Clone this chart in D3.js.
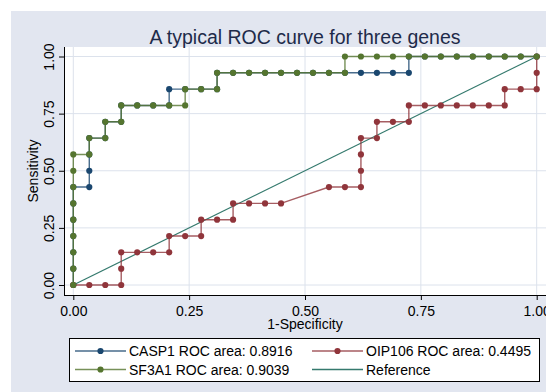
<!DOCTYPE html>
<html>
<head>
<meta charset="utf-8">
<script src="https://cdn.jsdelivr.net/npm/d3@7"></script>
<style>
  html, body { margin: 0; padding: 0; background: #ffffff; }
  svg { display: block; font-family: "Liberation Sans", Arial, Helvetica, sans-serif; }
</style>
</head>
<body>
<svg id="chart" width="546" height="392"></svg>
<script>
// ---- chart text ----
const chartTitle = "A typical ROC curve for three genes";
const xTitle = "1-Specificity";
const yTitle = "Sensitivity";
const tickValues = [0, 0.25, 0.5, 0.75, 1];

// ---- series: names, ROC areas, colours ----
const seriesNames = ["CASP1", "OIP106", "SF3A1"];
const rocAreas = [0.8916, 0.4495, 0.9039];
const seriesColors = ["#1a476f", "#90353b", "#55752f"];
const referenceName = "Reference";
const referenceColor = "#357a6e";

// ---- ROC points (1-specificity, sensitivity) ----
const casp1Fpr = [0, 0, 0, 0, 0, 0, 0, 0.0345, 0.0345, 0.0345, 0.0345, 0.0690, 0.0690, 0.1034, 0.1034,
  0.1379, 0.1724, 0.2069, 0.2069, 0.2414, 0.2759, 0.3103, 0.3103, 0.3448, 0.3793, 0.4138, 0.4483, 0.4828,
  0.5172, 0.5517, 0.5862, 0.6207, 0.6552, 0.6897, 0.7241, 0.7241, 0.7586, 0.7931, 0.8276, 0.8621, 0.8966,
  0.9310, 0.9655, 1];
const casp1Tpr = [0, 0.0714, 0.1429, 0.2143, 0.2857, 0.3571, 0.4286, 0.4286, 0.5000, 0.5714, 0.6429, 0.6429,
  0.7143, 0.7143, 0.7857, 0.7857, 0.7857, 0.7857, 0.8571, 0.8571, 0.8571, 0.8571, 0.9286, 0.9286, 0.9286,
  0.9286, 0.9286, 0.9286, 0.9286, 0.9286, 0.9286, 0.9286, 0.9286, 0.9286, 0.9286, 1, 1, 1, 1, 1, 1, 1, 1, 1];

const oip106Fpr = [0, 0.0345, 0.0690, 0.1034, 0.1034, 0.1034, 0.1379, 0.1724, 0.2069, 0.2069, 0.2414, 0.2759,
  0.2759, 0.3103, 0.3448, 0.3448, 0.3793, 0.4138, 0.4483, 0.5517, 0.5862, 0.6207, 0.6207, 0.6207, 0.6207,
  0.6552, 0.6552, 0.6897, 0.7241, 0.7241, 0.7586, 0.7931, 0.8276, 0.8621, 0.8966, 0.9310, 0.9310, 0.9655,
  1, 1, 1];
const oip106Tpr = [0, 0, 0, 0, 0.0714, 0.1429, 0.1429, 0.1429, 0.1429, 0.2143, 0.2143, 0.2143, 0.2857, 0.2857,
  0.2857, 0.3571, 0.3571, 0.3571, 0.3571, 0.4286, 0.4286, 0.4286, 0.5000, 0.5714, 0.6429, 0.6429, 0.7143,
  0.7143, 0.7143, 0.7857, 0.7857, 0.7857, 0.7857, 0.7857, 0.7857, 0.7857, 0.8571, 0.8571, 0.8571, 0.9286, 1];

const sf3a1Fpr = [0, 0, 0, 0, 0, 0, 0, 0, 0, 0.0345, 0.0345, 0.0690, 0.0690, 0.1034, 0.1034, 0.1379, 0.1724,
  0.2069, 0.2414, 0.2414, 0.2759, 0.3103, 0.3103, 0.3448, 0.3793, 0.4138, 0.4483, 0.4828, 0.5172, 0.5517,
  0.5862, 0.5862, 0.6207, 0.6552, 0.6897, 0.7241, 0.7586, 0.7931, 0.8276, 0.8621, 0.8966, 0.9310, 0.9655, 1];
const sf3a1Tpr = [0, 0.0714, 0.1429, 0.2143, 0.2857, 0.3571, 0.4286, 0.5000, 0.5714, 0.5714, 0.6429, 0.6429,
  0.7143, 0.7143, 0.7857, 0.7857, 0.7857, 0.7857, 0.7857, 0.8571, 0.8571, 0.8571, 0.9286, 0.9286, 0.9286,
  0.9286, 0.9286, 0.9286, 0.9286, 0.9286, 0.9286, 1, 1, 1, 1, 1, 1, 1, 1, 1, 1, 1, 1, 1];

// diagonal reference line
const referenceX = [0, 1];
const referenceY = [0, 1];

const seriesFpr = [casp1Fpr, oip106Fpr, sf3a1Fpr];
const seriesTpr = [casp1Tpr, oip106Tpr, sf3a1Tpr];

// ---- layout ----
const W = 546, H = 392;
const bgColor = "#e2e6f0";
const gridColor = "#dce2ec";
const plotLeft = 64, plotTop = 47, plotBottom = 295, plotRight = 546;

const svg = d3.select("#chart");

// outer graph region
svg.append("rect").attr("x", 11).attr("y", 11).attr("width", W - 11).attr("height", H - 11)
  .attr("fill", bgColor);

// plot region
svg.append("rect").attr("x", plotLeft).attr("y", plotTop)
  .attr("width", plotRight - plotLeft).attr("height", plotBottom - plotTop)
  .attr("fill", "#ffffff");

const x = d3.scaleLinear().domain([0, 1]).range([73.3, 536.7]);
const y = d3.scaleLinear().domain([0, 1]).range([285, 56.5]);

// grid lines
const grid = svg.append("g").attr("stroke", gridColor).attr("stroke-width", 1);
grid.selectAll("line.gx").data(tickValues).join("line").attr("class", "gx")
  .attr("x1", d => x(d)).attr("x2", d => x(d))
  .attr("y1", plotTop).attr("y2", plotBottom);
grid.selectAll("line.gy").data(tickValues).join("line").attr("class", "gy")
  .attr("x1", plotLeft).attr("x2", plotRight)
  .attr("y1", d => y(d)).attr("y2", d => y(d));

// axes
const fmt = d3.format(".2f");
const yAxis = svg.append("g").attr("transform", `translate(${plotLeft},0)`)
  .call(d3.axisLeft(y).tickValues(tickValues).tickSize(5).tickSizeOuter(0).tickFormat(fmt));
yAxis.select(".domain").remove();
yAxis.selectAll(".tick line").attr("stroke", "#000");
yAxis.selectAll(".tick text")
  .attr("transform", "rotate(-90)")
  .attr("x", 0).attr("y", -10).attr("dy", 0)
  .attr("text-anchor", "middle")
  .attr("font-size", 14).attr("fill", "#000");

const xAxis = svg.append("g").attr("transform", `translate(0,${plotBottom})`)
  .call(d3.axisBottom(x).tickValues(tickValues).tickSize(5).tickSizeOuter(0).tickFormat(fmt));
xAxis.select(".domain").remove();
xAxis.selectAll(".tick line").attr("stroke", "#000");
xAxis.selectAll(".tick text").attr("y", 11).attr("dy", "0.71em")
  .attr("font-size", 14).attr("fill", "#000");

svg.append("line").attr("x1", plotLeft + 0.5).attr("x2", plotLeft + 0.5)
  .attr("y1", plotTop).attr("y2", plotBottom + 0.5).attr("stroke", "#000");
svg.append("line").attr("x1", plotLeft).attr("x2", plotRight)
  .attr("y1", plotBottom + 0.5).attr("y2", plotBottom + 0.5).attr("stroke", "#000");

// axis titles
svg.append("text").attr("x", 305).attr("y", 329).attr("text-anchor", "middle")
  .attr("font-size", 14).attr("fill", "#000").text(xTitle);
svg.append("text").attr("transform", "translate(38,171) rotate(-90)").attr("text-anchor", "middle")
  .attr("font-size", 14).attr("fill", "#000").text(yTitle);

// chart title
svg.append("text").attr("x", 305).attr("y", 44).attr("text-anchor", "middle")
  .attr("font-size", 19.5).attr("fill", "#1e2b4a").text(chartTitle);

// reference diagonal
const lineGen = d3.line().x(d => x(d[0])).y(d => y(d[1]));
svg.append("path").datum(d3.zip(referenceX, referenceY))
  .attr("d", lineGen).attr("fill", "none")
  .attr("stroke", referenceColor).attr("stroke-width", 1.2);

// ROC curves, drawn in series order
seriesNames.forEach((name, i) => {
  const pts = d3.zip(seriesFpr[i], seriesTpr[i]);
  const g = svg.append("g");
  g.append("path").datum(pts).attr("d", lineGen).attr("fill", "none")
    .attr("stroke", seriesColors[i]).attr("stroke-width", 1.4).attr("stroke-opacity", 0.8);
  g.selectAll("circle").data(pts).join("circle")
    .attr("cx", d => x(d[0])).attr("cy", d => y(d[1])).attr("r", 3.1)
    .attr("fill", seriesColors[i]);
});

// legend
const legendItems = [
  { label: `${seriesNames[0]} ROC area: ${d3.format(".4f")(rocAreas[0])}`, color: seriesColors[0], marker: true },
  { label: `${seriesNames[1]} ROC area: ${d3.format(".4f")(rocAreas[1])}`, color: seriesColors[1], marker: true },
  { label: `${seriesNames[2]} ROC area: ${d3.format(".4f")(rocAreas[2])}`, color: seriesColors[2], marker: true },
  { label: referenceName, color: referenceColor, marker: false }
];
const legend = svg.append("g");
legend.append("rect").attr("x", 69.5).attr("y", 338.5).attr("width", 470).attr("height", 43)
  .attr("fill", "#ffffff").attr("stroke", "#000").attr("stroke-width", 1);
const colX = [75, 312];
const rowY = [351, 369.5];
const keyLen = 51;
legendItems.forEach((it, k) => {
  const cx0 = colX[k % 2], cy0 = rowY[Math.floor(k / 2)];
  legend.append("line").attr("x1", cx0).attr("x2", cx0 + keyLen)
    .attr("y1", cy0).attr("y2", cy0)
    .attr("stroke", it.color).attr("stroke-width", 1.4).attr("stroke-opacity", it.marker ? 0.8 : 1);
  if (it.marker) {
    legend.append("circle").attr("cx", cx0 + keyLen / 2).attr("cy", cy0).attr("r", 3.1)
      .attr("fill", it.color);
  }
  legend.append("text").attr("x", cx0 + keyLen + 3).attr("y", cy0).attr("dy", "0.36em")
    .attr("font-size", 14).attr("fill", "#000").text(it.label);
});
</script>
</body>
</html>
